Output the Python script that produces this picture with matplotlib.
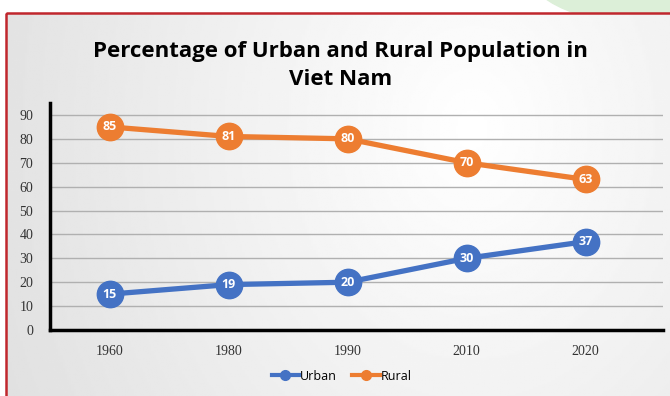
import numpy as np
import matplotlib.pyplot as plt
import matplotlib.patches as mpatches
from matplotlib.lines import Line2D

##############################################
### Data

years = ['1960', '1980', '1990', '2010', '2020']
urban = [15, 19, 20, 30, 37]
rural = [85, 81, 80, 70, 63]
y_ticks = [0, 10, 20, 30, 40, 50, 60, 70, 80, 90]

blue = '#4472C4'
orange = '#ED7D31'

fig = plt.figure(figsize=(6.7, 3.96), dpi=100)

###############################################
### Background: page, green blob, red frame, gray gradient

bg = fig.add_axes([0, 0, 1, 1], zorder=0)
bg.set_xlim(0, 670)
bg.set_ylim(396, 0)
bg.axis('off')

bg.add_patch(mpatches.Ellipse((690, -25), 320, 110, color='#dcefd8', zorder=0))

gx = np.linspace(0, 1, 300)
gy = np.linspace(0, 1, 200)
X, Y = np.meshgrid(gx, gy)
d = np.sqrt(((X - 0.7) * 1.3) ** 2 + ((Y - 0.3) * 0.6) ** 2)
img = 1.0 - 0.12 * np.clip(d, 0, 1)
bg.imshow(img, cmap='gray', vmin=0, vmax=1, extent=[6, 672, 400, 13],
          aspect='auto', zorder=1)
bg.add_patch(mpatches.Rectangle((6, 13), 670, 400, fill=False,
                                edgecolor='#c0272d', linewidth=1.8, zorder=2))

fig.text(0.508, 0.835, 'Percentage of Urban and Rural Population in\nViet Nam',
         ha='center', va='center', fontsize=16, fontweight='bold',
         family='Open Sans', linespacing=1.45, zorder=3)

###############################################
### Chart

ax = fig.add_axes([50 / 670, 1 - 330 / 396, (663 - 50) / 670, (330 - 103) / 396], zorder=2)
ax.patch.set_alpha(0)
x = np.arange(len(years))

ax.plot(x, urban, color=blue, linewidth=3.8, marker='o', markersize=19, label='Urban', zorder=3)
ax.plot(x, rural, color=orange, linewidth=3.8, marker='o', markersize=19, label='Rural', zorder=3)

for xi, u, r in zip(x, urban, rural):
    ax.text(xi, u, str(u), color='white', fontsize=9, fontweight='bold',
            ha='center', va='center', family='Open Sans', zorder=4)
    ax.text(xi, r, str(r), color='white', fontsize=9, fontweight='bold',
            ha='center', va='center', family='Open Sans', zorder=4)

ax.set_xlim(-0.5, 4.65)
ax.set_ylim(0, 95)
ax.set_yticks(y_ticks)
ax.set_xticks(x)
ax.set_xticklabels(years)
ax.grid(axis='y', color='#b0b0b0', linewidth=1)
ax.set_axisbelow(True)

for s in ['top', 'right']:
    ax.spines[s].set_visible(False)
ax.spines['left'].set_linewidth(2.5)
ax.spines['bottom'].set_linewidth(2.5)
ax.tick_params(length=0, labelsize=10, colors='#333333', pad=12)
for lab in ax.get_xticklabels() + ax.get_yticklabels():
    lab.set_family('Liberation Serif')
ax.tick_params(axis='x', pad=11)

###############################################
### Legend

handles = [Line2D([], [], color=blue, linewidth=3, marker='o', markersize=7),
           Line2D([], [], color=orange, linewidth=3, marker='o', markersize=7)]
fig.legend(handles, ['Urban', 'Rural'], loc='center', bbox_to_anchor=(0.51, 0.05),
           ncol=2, frameon=False, handlelength=2.2, handletextpad=0.1,
           columnspacing=1.2, prop={'family': 'Open Sans', 'size': 9})

plt.savefig('out.png', dpi=100)
